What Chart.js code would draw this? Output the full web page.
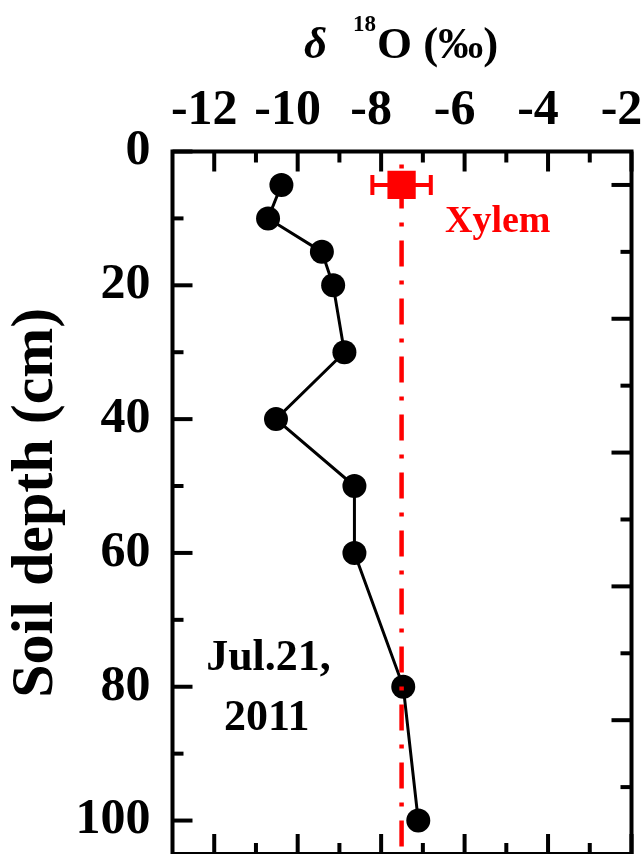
<!DOCTYPE html>
<html lang="en">

<head>
    <meta charset="UTF-8">
    <meta name="viewport" content="width=device-width, initial-scale=1.0">
    <title>Soil depth vs d18O</title>
    <script src="https://cdn.jsdelivr.net/npm/chart.js"></script>
    <style>
        body { margin: 0; background: #fff; }
        canvas { display: block; }
    </style>
</head>

<body>
    <canvas id="profileChart" width="644" height="854"></canvas>
</body>

</html>

<script>
    // soil water profile (Jul.21, 2011)
    var depths = [5, 10, 15, 20, 30, 40, 50, 60, 80, 100];
    var soilD18O = [-10.39, -10.71, -9.42, -9.15, -8.88, -10.52, -8.64, -8.64, -7.47, -7.11];

    // xylem water (mean +- sd)
    var xylemDepth = [5];
    var xylemD18O = [-7.51];
    var xylemErr = [0.70];
    var xylemLineDepths = [0, 105];

    // axes
    var xTicks = [-12, -10, -8, -6, -4, -2];
    var xMinorTicks = [-11, -9, -7, -5, -3];
    var yTicks = [0, 20, 40, 60, 80, 100];
    var yMinorTicks = [10, 30, 50, 70, 90];
    var rightTicks = [5, 25, 45, 65, 85];
    var rightMinorTicks = [15, 35, 55, 75, 95];

    var serif = '"Liberation Serif", "Times New Roman", serif';

    // frame, inward ticks, error bar, notes and the x title
    var decor = {
        id: 'decor',
        afterDatasetsDraw(chart) {
            var ctx = chart.ctx;
            var a = chart.chartArea;
            var x = chart.scales.x;
            var y = chart.scales.y;
            ctx.save();

            // xylem error bar
            ctx.strokeStyle = '#ff0000';
            ctx.lineWidth = 4;
            for (var i = 0; i < xylemD18O.length; i++) {
                var py = y.getPixelForValue(xylemDepth[i]);
                var x1 = x.getPixelForValue(xylemD18O[i] - xylemErr[i]);
                var x2 = x.getPixelForValue(xylemD18O[i] + xylemErr[i]);
                ctx.beginPath();
                ctx.moveTo(x1, py); ctx.lineTo(x2, py);
                ctx.moveTo(x1, py - 10); ctx.lineTo(x1, py + 10);
                ctx.moveTo(x2, py - 10); ctx.lineTo(x2, py + 10);
                ctx.stroke();
            }

            // frame
            ctx.strokeStyle = '#000';
            ctx.lineWidth = 4;
            ctx.strokeRect(a.left, a.top, a.right - a.left, a.bottom - a.top);

            // ticks pointing in
            function hTicks(vals, len) {
                vals.forEach(function (v) {
                    var px = x.getPixelForValue(v);
                    ctx.beginPath();
                    ctx.moveTo(px, a.top); ctx.lineTo(px, a.top + len);
                    ctx.moveTo(px, a.bottom); ctx.lineTo(px, a.bottom - len);
                    ctx.stroke();
                });
            }
            function vTicks(vals, len, side) {
                vals.forEach(function (v) {
                    var py = y.getPixelForValue(v);
                    var edge = side === 'left' ? a.left : a.right;
                    var dir = side === 'left' ? 1 : -1;
                    ctx.beginPath();
                    ctx.moveTo(edge, py); ctx.lineTo(edge + dir * len, py);
                    ctx.stroke();
                });
            }
            hTicks(xTicks, 20);
            hTicks(xMinorTicks, 11);
            vTicks(yTicks, 20, 'left');
            vTicks(yMinorTicks, 11, 'left');
            vTicks(rightTicks, 20, 'right');
            vTicks(rightMinorTicks, 11, 'right');

            // notes
            ctx.fillStyle = '#ff0000';
            ctx.font = 'bold 38px ' + serif;
            ctx.textAlign = 'left';
            ctx.textBaseline = 'alphabetic';
            ctx.fillText('Xylem', x.getPixelForValue(-6.47), y.getPixelForValue(12));

            ctx.fillStyle = '#000';
            ctx.font = 'bold 44px ' + serif;
            ctx.textAlign = 'center';
            ctx.fillText('Jul.21,', x.getPixelForValue(-10.70), y.getPixelForValue(77.5));
            ctx.fillText('2011', x.getPixelForValue(-10.74), y.getPixelForValue(86.5));

            // x title: delta 18O (permil)
            var start = (a.left + a.right) / 2 - 98;
            ctx.textAlign = 'left';
            ctx.font = 'italic bold 45px ' + serif;
            ctx.fillText('\u03b4', start, 58);
            var sx = start + 49;
            ctx.font = 'bold 23px ' + serif;
            ctx.fillText('18', sx, 31);
            sx += ctx.measureText('18').width + 1;
            ctx.font = 'bold 45px ' + serif;
            ctx.fillText('O (\u2030)', sx, 58);

            ctx.restore();
        }
    };

    window.onload = () => {
        var ctx = document.getElementById('profileChart').getContext('2d');

        new Chart(ctx, {
            type: 'scatter',
            data: {
                datasets: [{
                    label: 'Xylem',
                    data: xylemDepth.map((d, i) => ({ x: xylemD18O[i], y: d })),
                    pointStyle: 'rect',
                    pointRadius: 20,
                    backgroundColor: '#ff0000',
                    borderColor: '#ff0000',
                    borderWidth: 0,
                    order: 0
                }, {
                    label: 'Xylem mean',
                    data: xylemLineDepths.map(d => ({ x: xylemD18O[0], y: d })),
                    showLine: true,
                    pointRadius: 0,
                    borderColor: '#ff0000',
                    borderWidth: 4.5,
                    borderDash: [26, 14, 4, 14],
                    borderDashOffset: 27,
                    order: 1
                }, {
                    label: 'Soil',
                    data: depths.map((d, i) => ({ x: soilD18O[i], y: d })),
                    showLine: true,
                    borderColor: '#000',
                    borderWidth: 3,
                    pointRadius: 12,
                    pointBackgroundColor: '#000',
                    pointBorderWidth: 0,
                    order: 2
                }]
            },
            options: {
                responsive: false,
                animation: false,
                layout: { autoPadding: false, padding: { top: 0, right: 12.5, bottom: 0, left: 0 } },
                plugins: {
                    legend: { display: false },
                    tooltip: { enabled: false }
                },
                scales: {
                    x: {
                        type: 'linear',
                        position: 'top',
                        min: -13,
                        max: -2,
                        afterBuildTicks: s => { s.ticks = xTicks.map(v => ({ value: v })); },
                        afterFit: s => { s.height = 151.5; s.paddingLeft = 0; s.paddingRight = 0; },
                        grid: { display: false, drawTicks: false },
                        border: { display: false },
                        ticks: {
                            color: '#000',
                            padding: 10,
                            labelOffset: -10,
                            maxRotation: 0,
                            font: { family: serif, size: 50, weight: 'bold' }
                        }
                    },
                    y: {
                        type: 'linear',
                        position: 'left',
                        reverse: true,
                        min: 0,
                        max: 105,
                        afterBuildTicks: s => { s.ticks = yTicks.map(v => ({ value: v })); },
                        afterFit: s => { s.width = 172.5; s.paddingTop = 0; s.paddingBottom = 0; },
                        grid: { display: false, drawTicks: false },
                        border: { display: false },
                        ticks: {
                            color: '#000',
                            padding: 22,
                            font: { family: serif, size: 50, weight: 'bold' }
                        },
                        title: {
                            display: true,
                            text: 'Soil depth (cm)',
                            color: '#000',
                            padding: 0,
                            font: { family: serif, size: 60, weight: 'bold', lineHeight: 1.2 }
                        }
                    }
                }
            },
            plugins: [decor]
        });
    };
</script>
